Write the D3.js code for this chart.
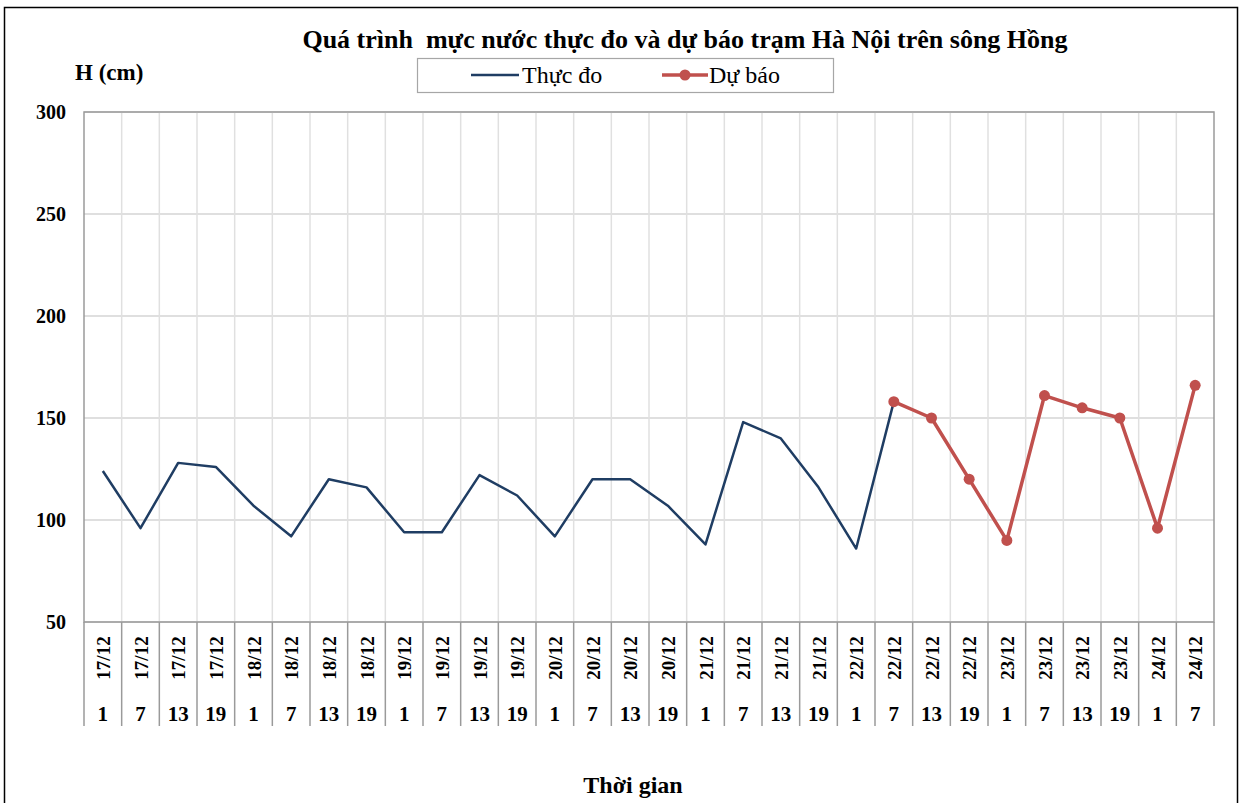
<!DOCTYPE html>
<html>
<head>
<meta charset="utf-8">
<script src="https://cdn.jsdelivr.net/npm/d3@7"></script>
<style>
  body { margin: 0; background: #fff; }
  text { font-family: "Liberation Serif", "Times New Roman", serif; }
</style>
</head>
<body>
<div id="corpo"></div>
<script>
// ngay / gio cua tung moc
var ngay = ["17/12","17/12","17/12","17/12","18/12","18/12","18/12","18/12",
            "19/12","19/12","19/12","19/12","20/12","20/12","20/12","20/12",
            "21/12","21/12","21/12","21/12","22/12","22/12","22/12","22/12",
            "23/12","23/12","23/12","23/12","24/12","24/12"];
var gio = ["1","7","13","19","1","7","13","19","1","7","13","19","1","7","13","19",
           "1","7","13","19","1","7","13","19","1","7","13","19","1","7"];

// muc nuoc thuc do (cm), null = khong co
var thucDo = [124, 96, 128, 126, 107, 92, 120, 116, 94, 94, 122, 112,
              92, 120, 120, 107, 88, 148, 140, 116, 86, 158,
              null, null, null, null, null, null, null, null];
// muc nuoc du bao (cm)
var duBao = [null, null, null, null, null, null, null, null, null, null, null, null,
             null, null, null, null, null, null, null, null, null, 158,
             150, 120, 90, 161, 155, 150, 96, 166];

var yTicks = [50, 100, 150, 200, 250, 300];

var W = 1242, H = 803;
var margin = {top: 112, right: 28, bottom: 181, left: 84};
var width = W - margin.left - margin.right,
    height = H - margin.top - margin.bottom;

var svg = d3.select("#corpo").append("svg")
    .attr("width", W)
    .attr("height", H);

// khung ngoai
svg.append("rect")
    .attr("x", 4.5).attr("y", 7.5)
    .attr("width", 1233).attr("height", 820)
    .attr("fill", "none")
    .attr("stroke", "#000")
    .attr("stroke-width", 1.5);

var g = svg.append("g")
    .attr("transform", "translate(" + margin.left + "," + margin.top + ")");

var x = d3.scaleBand().domain(d3.range(ngay.length)).range([0, width]).padding(0);
var y = d3.scaleLinear().domain([50, 300]).range([height, 0]);

// luoi ngang
g.selectAll(".hgrid").data(yTicks).enter().append("line")
    .attr("x1", 0).attr("x2", width)
    .attr("y1", function(d) { return y(d); })
    .attr("y2", function(d) { return y(d); })
    .attr("stroke", "#d4d4d4").attr("stroke-width", 1.5);

// luoi doc
g.selectAll(".vgrid").data(d3.range(1, ngay.length)).enter().append("line")
    .attr("x1", function(d) { return x(d); })
    .attr("x2", function(d) { return x(d); })
    .attr("y1", 0).attr("y2", height)
    .attr("stroke", "#e0e0e0").attr("stroke-width", 1.5);

// vach phan cach nhan truc x
g.selectAll(".sep").data(d3.range(0, ngay.length + 1)).enter().append("line")
    .attr("x1", function(d) { return d === ngay.length ? width : x(d); })
    .attr("x2", function(d) { return d === ngay.length ? width : x(d); })
    .attr("y1", height).attr("y2", height + 104)
    .attr("stroke", "#9a9a9a").attr("stroke-width", 1.5);

// khung vung ve
g.append("rect")
    .attr("x", 0).attr("y", 0)
    .attr("width", width).attr("height", height)
    .attr("fill", "none")
    .attr("stroke", "#9a9a9a").attr("stroke-width", 1.5);

// truc y
var yAxis = g.append("g")
    .call(d3.axisLeft(y).tickValues(yTicks).tickSize(0).tickPadding(18));
yAxis.select(".domain").remove();
yAxis.selectAll("text")
    .style("font-family", "'Liberation Serif', serif")
    .style("font-size", "20px")
    .style("font-weight", "bold")
    .attr("fill", "#000");

// nhan truc x: ngay (xoay) va gio
var xl = g.selectAll(".xl").data(d3.range(ngay.length)).enter().append("g")
    .attr("transform", function(d) {
        return "translate(" + (x(d) + x.bandwidth() / 2) + "," + height + ")";
    });
xl.append("text")
    .attr("transform", "translate(7,36) rotate(-90)")
    .attr("text-anchor", "middle")
    .style("font-size", "19px")
    .style("font-weight", "bold")
    .text(function(d) { return ngay[d]; });
xl.append("text")
    .attr("x", 0).attr("y", 99)
    .attr("text-anchor", "middle")
    .style("font-size", "21px")
    .style("font-weight", "bold")
    .text(function(d) { return gio[d]; });

var line = d3.line()
    .defined(function(d) { return d != null; })
    .x(function(d, i) { return x(i) + x.bandwidth() / 2; })
    .y(function(d) { return y(d); });

// duong thuc do
g.append("path")
    .datum(thucDo)
    .attr("fill", "none")
    .attr("stroke", "#1f3d63")
    .attr("stroke-width", 2.5)
    .attr("stroke-linejoin", "round")
    .attr("d", line);

// duong du bao
g.append("path")
    .datum(duBao)
    .attr("fill", "none")
    .attr("stroke", "#c0504d")
    .attr("stroke-width", 3.5)
    .attr("stroke-linejoin", "round")
    .attr("d", line);

g.selectAll(".dot").data(duBao.map(function(v, i) { return {v: v, i: i}; })
        .filter(function(d) { return d.v != null; }))
    .enter().append("circle")
    .attr("cx", function(d) { return x(d.i) + x.bandwidth() / 2; })
    .attr("cy", function(d) { return y(d.v); })
    .attr("r", 5.5)
    .attr("fill", "#c0504d");

// tieu de
svg.append("text")
    .attr("x", 685).attr("y", 48)
    .attr("text-anchor", "middle")
    .style("font-size", "26px")
    .style("font-weight", "bold")
    .style("white-space", "pre")
    .text("Quá trình  mực nước thực đo và dự báo trạm Hà Nội trên sông Hồng");

svg.append("text")
    .attr("x", 75).attr("y", 80)
    .style("font-size", "23px")
    .style("font-weight", "bold")
    .text("H (cm)");

svg.append("text")
    .attr("x", 633).attr("y", 793)
    .attr("text-anchor", "middle")
    .style("font-size", "24px")
    .style("font-weight", "bold")
    .text("Thời gian");

// LEGEND
var leg = svg.append("g");
leg.append("rect")
    .attr("x", 417.5).attr("y", 58.5)
    .attr("width", 416).attr("height", 34)
    .attr("fill", "#fff")
    .attr("stroke", "#a6a6a6").attr("stroke-width", 1.2);
leg.append("line")
    .attr("x1", 471).attr("x2", 519).attr("y1", 75).attr("y2", 75)
    .attr("stroke", "#1f3d63").attr("stroke-width", 2.5);
leg.append("text")
    .attr("x", 522).attr("y", 83)
    .style("font-size", "24px")
    .text("Thực đo");
leg.append("line")
    .attr("x1", 662).attr("x2", 708).attr("y1", 75).attr("y2", 75)
    .attr("stroke", "#c0504d").attr("stroke-width", 3.5);
leg.append("circle")
    .attr("cx", 685).attr("cy", 75).attr("r", 5.5)
    .attr("fill", "#c0504d");
leg.append("text")
    .attr("x", 709).attr("y", 83)
    .style("font-size", "24px")
    .text("Dự báo");
</script>
</body>
</html>
